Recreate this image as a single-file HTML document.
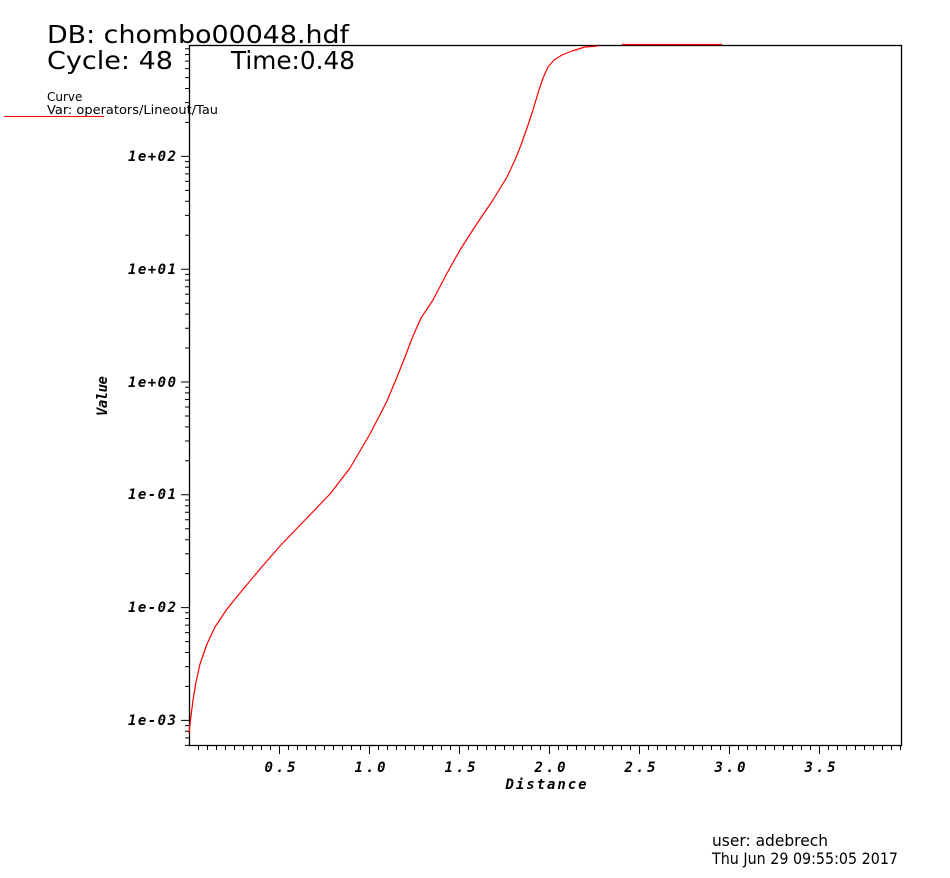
<!DOCTYPE html>
<html><head><meta charset="utf-8"><style>
html,body{margin:0;padding:0;background:#fff;width:950px;height:878px;overflow:hidden}
svg{display:block}
.t{font-family:"DejaVu Sans","Liberation Sans",sans-serif;fill:#000}
.k{font-family:"DejaVu Sans Mono","Liberation Mono",monospace;font-weight:bold;font-style:italic;font-size:14px;fill:#000}
</style></head><body>
<svg id="s" width="950" height="878" viewBox="0 0 950 878">
<text class="t" x="47" y="43" font-size="25" textLength="302" lengthAdjust="spacingAndGlyphs">DB: chombo00048.hdf</text>
<text class="t" x="47" y="69" font-size="25" textLength="126" lengthAdjust="spacingAndGlyphs">Cycle: 48</text>
<text class="t" x="231" y="69" font-size="25" textLength="124" lengthAdjust="spacingAndGlyphs">Time:0.48</text>
<text class="t" x="47" y="101" font-size="12">Curve</text>
<text class="t" x="47" y="114" font-size="12" textLength="171" lengthAdjust="spacingAndGlyphs">Var: operators/Lineout/Tau</text>
<line x1="4" y1="116.5" x2="104" y2="116.5" stroke="#f00" stroke-width="1"/>
<rect x="189.5" y="45.5" width="712" height="700" fill="none" stroke="#000" stroke-width="1.3"/>
<g id="ticks" stroke="#000" stroke-width="1"></g>
<g class="k" text-anchor="end">
<text x="176" y="161" textLength="48">1e+02</text><text x="176" y="274" textLength="48">1e+01</text><text x="176" y="387" textLength="48">1e+00</text>
<text x="176" y="499" textLength="48">1e-01</text><text x="176" y="612" textLength="48">1e-02</text><text x="176" y="725" textLength="48">1e-03</text>
</g>
<g class="k" text-anchor="middle">
<text x="280" y="772" textLength="31">0.5</text><text x="370" y="772" textLength="31">1.0</text><text x="460" y="772" textLength="31">1.5</text>
<text x="550" y="772" textLength="31">2.0</text><text x="640" y="772" textLength="31">2.5</text><text x="730" y="772" textLength="31">3.0</text><text x="820" y="772" textLength="31">3.5</text>
<text x="546" y="789" textLength="81">Distance</text>
</g>
<text class="k" x="0" y="0" text-anchor="middle" textLength="40" transform="translate(107,396) rotate(-90)">Value</text>
<polyline fill="none" stroke="#f00" stroke-width="1.2" stroke-linejoin="round" points="189,733 191,716 193,700 196,682 200,664 207,644 215,627 227,609 240,593 260,569 280,546 305,520 330,494 350,468 370,434 387,401 397,377 405,357 413,336 421,318 433,300 446,275 460,250 476,225 493,200 507,177 515,160 521,145 527,128 533,110 538,93 543,78 548,67 554,60 562,55 572,51 585,47 598,46"/>
<line x1="622" y1="44.5" x2="722" y2="44.5" stroke="#f00" stroke-width="1.3"/>
<text class="t" x="712" y="846" font-size="16" textLength="116" lengthAdjust="spacingAndGlyphs">user: adebrech</text>
<text class="t" x="712" y="864" font-size="16" textLength="186" lengthAdjust="spacingAndGlyphs">Thu Jun 29 09:55:05 2017</text>
</svg>
<script>
var g=document.getElementById('ticks'),d='';
for(var e=-4;e<=3;e++){for(var m=1;m<10;m++){var y=382-112.8*(e+Math.log10(m));if(y<45||y>746)continue;var L=m==1?8:4;d+='M'+(189-L)+' '+y.toFixed(1)+'H189';}}
for(var i=1;i<80;i++){var x=189+9*i;if(x>901)break;var L=i%10==0?8:4;d+='M'+x+'.5 746V'+(746+L);}
var p=document.createElementNS('http://www.w3.org/2000/svg','path');p.setAttribute('d',d);g.appendChild(p);
</script>
</body></html>
